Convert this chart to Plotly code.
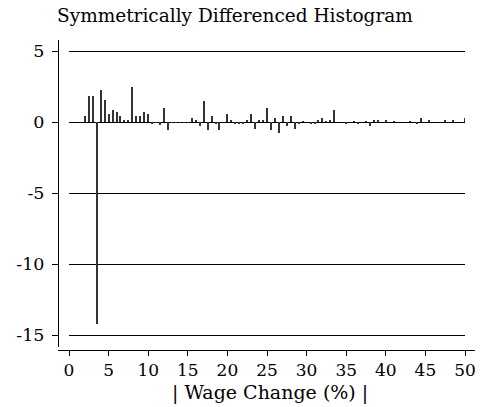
import plotly.graph_objects as go

# Data
wage_change = [2.0, 2.5, 3.0, 3.5, 4.0, 4.5, 5.0, 5.5, 6.0, 6.5, 7.0, 7.5, 8.0, 8.5, 9.0, 9.5,
               10.0, 10.5, 11.0, 11.5, 12.0, 12.5, 13.0, 13.5, 14.0, 14.5, 15.0, 15.5, 16.0,
               16.5, 17.0, 17.5, 18.0, 18.5, 19.0, 20.0, 20.5, 21.0, 21.5, 22.0, 22.5, 23.0,
               23.5, 24.0, 24.5, 25.0, 25.5, 26.0, 26.5, 27.0, 27.5, 28.0, 28.5, 29.0, 29.5,
               30.5, 31.0, 31.5, 32.0, 32.5, 33.0, 33.5, 35.0, 36.0, 36.5, 37.5, 38.0, 38.5,
               39.0, 40.0, 41.0, 43.0, 44.0, 44.5, 45.5, 47.5, 48.5, 50.0]
diff_values = [0.42, 1.85, 1.85, -14.23, 2.23, 1.55, 0.57, 0.85, 0.70, 0.45, 0.14, 0.14, 2.50,
               0.42, 0.42, 0.70, 0.57, -0.14, -0.07, -0.22, 0.99, -0.56, -0.05, -0.05, -0.05,
               -0.05, -0.05, 0.26, 0.12, -0.30, 1.50, -0.56, 0.42, -0.15, -0.56, 0.56, 0.12,
               -0.16, -0.16, -0.16, 0.12, 0.56, -0.47, 0.12, 0.14, 0.99, -0.56, 0.25, -0.75,
               0.42, -0.28, 0.42, -0.47, -0.14, 0.05, -0.10, -0.10, 0.12, 0.25, 0.05, 0.12,
               0.82, -0.12, 0.07, -0.14, 0.07, -0.30, 0.10, 0.10, 0.10, 0.05, 0.07, -0.12,
               0.25, 0.10, 0.10, 0.10, 0.27]

x_ticks = [0, 5, 10, 15, 20, 25, 30, 35, 40, 45, 50]
y_ticks = [-15, -10, -5, 0, 5]
y_tick_labels = ["-15", "-10", "-5", "0", "5"]

title_text = "Symmetrically Differenced Histogram"
x_title = "| Wage Change (%) |"

W, H = 480, 407
FONT = "DejaVu Serif"

def px(x):
    return x / W

def py(y):
    return 1 - y / H

y_dom = [py(347), py(40)]
y_rng = [-15.845, 5.775]

fig = go.Figure()
# invisible trace to establish the main axes (lines, ticks, labels)
fig.add_trace(go.Scatter(x=wage_change, y=diff_values, mode="markers",
                         marker=dict(opacity=0), hoverinfo="skip", showlegend=False,
                         xaxis="x", yaxis="y"))
# the bars, drawn on the inner plot region with gridlines
fig.add_trace(go.Bar(x=wage_change, y=diff_values, width=0.13,
                     marker=dict(color="#333333", line=dict(width=0)),
                     showlegend=False, xaxis="x2", yaxis="y2"))

tick_font = dict(family=FONT, size=17.5, color="black")
xtick_font = dict(family=FONT, size=17, color="black")

fig.update_layout(
    width=W, height=H,
    margin=dict(l=0, r=0, t=0, b=0, pad=0),
    paper_bgcolor="white", plot_bgcolor="white",
    showlegend=False,
    bargap=0,
    xaxis=dict(domain=[px(58), px(475)], range=[-1.389, 51.26], anchor="free",
               position=py(349.5), showline=True, linecolor="black", linewidth=1,
               ticks="outside", ticklen=5, tickcolor="black", tickwidth=1,
               tickvals=x_ticks, showgrid=False, zeroline=False, tickfont=xtick_font),
    yaxis=dict(domain=y_dom, range=y_rng, anchor="free", position=px(58),
               showline=True, linecolor="black", linewidth=1,
               ticks="outside", ticklen=6, tickcolor="black", tickwidth=1,
               tickvals=y_ticks, ticktext=y_tick_labels, showgrid=False, zeroline=False,
               tickfont=tick_font, ticklabelstandoff=4),
    xaxis2=dict(domain=[px(69), px(465)], range=[0, 50], anchor="y2", visible=False),
    yaxis2=dict(domain=y_dom, range=y_rng, anchor="x2", showgrid=True,
                gridcolor="black", gridwidth=1, tickvals=y_ticks, showticklabels=False,
                ticks="", showline=False, zeroline=True, zerolinecolor="black",
                zerolinewidth=1),
    annotations=[
        dict(text=title_text, x=px(235), y=py(16), xref="paper", yref="paper",
             xanchor="center", yanchor="middle", showarrow=False,
             font=dict(family=FONT, size=18.5, color="black")),
        dict(text=x_title, x=px(270), y=py(392), xref="paper", yref="paper",
             xanchor="center", yanchor="middle", showarrow=False,
             font=dict(family=FONT, size=19, color="black")),
    ],
)

fig.write_html("out.html")
